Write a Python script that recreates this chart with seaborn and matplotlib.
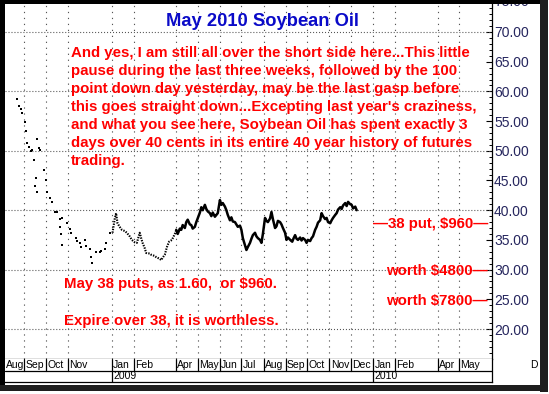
import matplotlib
matplotlib.use("Agg")
import matplotlib.pyplot as plt
import matplotlib.transforms as mtransforms
from matplotlib.patches import Rectangle
from matplotlib.ticker import MultipleLocator, FixedLocator
import seaborn as sns
import pandas as pd

# ---------------- data ----------------
dates_2008 = ['2008-08-22', '2008-08-25', '2008-08-27', '2008-08-29', '2008-09-02', '2008-09-03',
              '2008-09-05', '2008-09-08', '2008-09-10', '2008-09-12', '2008-09-15', '2008-09-16',
              '2008-09-17', '2008-09-18', '2008-09-19', '2008-09-22', '2008-09-23', '2008-09-29',
              '2008-10-01', '2008-10-02', '2008-10-06', '2008-10-09', '2008-10-13', '2008-10-16',
              '2008-10-20', '2008-10-21', '2008-10-22', '2008-10-23', '2008-10-24', '2008-10-30',
              '2008-11-03', '2008-11-05', '2008-11-12', '2008-11-14', '2008-11-17', '2008-11-19',
              '2008-11-24', '2008-11-26', '2008-12-01', '2008-12-03', '2008-12-04', '2008-12-10',
              '2008-12-15', '2008-12-17', '2008-12-22', '2008-12-24', '2008-12-29']
price_2008 = [58.7, 57.6, 57.0, 56.3, 54.8, 53.3,
              51.3, 50.6, 49.9, 50.1, 48.4, 44.0,
              45.4, 52.0, 43.0, 50.5, 50.1, 46.8,
              45.0, 43.0, 42.1, 41.4, 39.7, 39.7,
              38.5, 37.2, 36.0, 38.7, 34.1, 37.8,
              36.8, 36.2, 35.3, 34.8, 34.5, 33.8,
              35.0, 34.0, 33.5, 32.1, 31.1, 33.0,
              33.0, 33.2, 33.5, 34.5, 36.2]

dates_q1 = ['2009-01-02', '2009-01-05', '2009-01-07', '2009-01-09', '2009-01-12', '2009-01-15',
            '2009-01-19', '2009-01-22', '2009-01-26', '2009-01-29', '2009-02-02', '2009-02-05',
            '2009-02-09', '2009-02-11', '2009-02-13', '2009-02-16', '2009-02-18', '2009-02-23',
            '2009-02-25', '2009-03-02', '2009-03-04', '2009-03-09', '2009-03-11', '2009-03-13',
            '2009-03-16', '2009-03-19', '2009-03-22', '2009-03-26', '2009-03-30', '2009-04-01']
price_q1 = [36.2, 38.5, 39.5, 37.8, 37.2, 36.7,
            36.5, 36.2, 35.6, 35.0, 34.6, 34.5,
            36.2, 35.3, 34.5, 33.6, 32.8, 32.7,
            32.5, 32.3, 32.1, 31.8, 31.6, 32.0,
            32.5, 33.8, 34.7, 35.0, 36.0, 36.7]

dates_rest = ['2009-04-01', '2009-04-03', '2009-04-06', '2009-04-08', '2009-04-10', '2009-04-13',
              '2009-04-15', '2009-04-17', '2009-04-20', '2009-04-22', '2009-04-24', '2009-04-27',
              '2009-04-29', '2009-04-30', '2009-05-04', '2009-05-06', '2009-05-08', '2009-05-11',
              '2009-05-13', '2009-05-15', '2009-05-18', '2009-05-20', '2009-05-22', '2009-05-25',
              '2009-05-27', '2009-05-29', '2009-06-01', '2009-06-03', '2009-06-05', '2009-06-08',
              '2009-06-10', '2009-06-12', '2009-06-15', '2009-06-17', '2009-06-19', '2009-06-22',
              '2009-06-24', '2009-06-26', '2009-06-29', '2009-07-01', '2009-07-03', '2009-07-06',
              '2009-07-08', '2009-07-10', '2009-07-13', '2009-07-15', '2009-07-17', '2009-07-20',
              '2009-07-22', '2009-07-24', '2009-07-27', '2009-07-29', '2009-07-31', '2009-08-03',
              '2009-08-05', '2009-08-07', '2009-08-10', '2009-08-12', '2009-08-14', '2009-08-17',
              '2009-08-19', '2009-08-21', '2009-08-24', '2009-08-26', '2009-08-28', '2009-08-31',
              '2009-09-02', '2009-09-04', '2009-09-08', '2009-09-10', '2009-09-12', '2009-09-14',
              '2009-09-16', '2009-09-18', '2009-09-21', '2009-09-23', '2009-09-25', '2009-09-28',
              '2009-09-30', '2009-10-02', '2009-10-05', '2009-10-07', '2009-10-09', '2009-10-12',
              '2009-10-14', '2009-10-16', '2009-10-19', '2009-10-21', '2009-10-23', '2009-10-26',
              '2009-10-28', '2009-10-30', '2009-11-02', '2009-11-04', '2009-11-06', '2009-11-09',
              '2009-11-11', '2009-11-13', '2009-11-16', '2009-11-18', '2009-11-20', '2009-11-23',
              '2009-11-25', '2009-11-27', '2009-11-30', '2009-12-02', '2009-12-04', '2009-12-07',
              '2009-12-09']
price_rest = [36.7, 36.0, 36.9, 36.7, 37.5, 37.0,
              38.0, 38.4, 37.6, 37.5, 36.9, 37.2,
              38.0, 38.3, 39.6, 40.5, 40.0, 40.9,
              40.2, 39.8, 39.5, 39.0, 39.6, 38.9,
              39.2, 39.5, 41.7, 40.9, 41.2, 40.6,
              40.0, 39.2, 38.3, 38.8, 38.1, 38.0,
              37.6, 37.2, 37.4, 36.7, 35.3, 34.1,
              33.3, 33.8, 34.5, 35.2, 35.8, 36.2,
              35.6, 35.3, 35.0, 34.5, 36.0, 38.7,
              38.2, 38.0, 38.6, 39.7, 38.5, 37.0,
              37.3, 38.2, 38.0, 37.6, 37.0, 36.2,
              35.0, 35.4, 34.9, 34.7, 35.3, 35.8,
              35.2, 35.0, 35.4, 34.9, 35.3, 35.0,
              34.5, 35.0, 34.8, 35.3, 35.6, 36.7,
              37.2, 37.9, 38.3, 39.5, 39.0, 38.5,
              38.7, 38.0, 37.8, 38.3, 38.7, 39.2,
              39.5, 40.1, 40.5, 40.2, 40.8, 41.2,
              40.7, 41.4, 41.0, 40.9, 40.3, 40.6,
              40.0]

y_ticks = [20, 25, 30, 35, 40, 45, 50, 55, 60, 65, 70]
grid_levels = [20, 30, 40, 50, 60, 70]
month_starts = ['2008-08-01', '2008-09-01', '2008-10-01', '2008-11-01', '2009-01-01', '2009-02-01',
                '2009-04-01', '2009-05-01', '2009-06-01', '2009-07-01', '2009-08-01', '2009-09-01',
                '2009-10-01', '2009-11-01', '2009-12-01', '2010-01-01', '2010-02-01', '2010-04-01',
                '2010-05-01']
month_names = ['Aug', 'Sep', 'Oct', 'Nov', 'Jan', 'Feb', 'Apr', 'May', 'Jun', 'Jul', 'Aug', 'Sep',
               'Oct', 'Nov', 'Dec', 'Jan', 'Feb', 'Apr', 'May']
year_starts = ['2009-01-01', '2010-01-01']
year_names = ['2009', '2010']

title = "May 2010 Soybean Oil"
comment_lines = [
    "And yes, I am still all over the short side here...This little",
    "pause during the last three weeks, followed by the 100",
    "point down day yesterday, may be the last gasp before",
    "this goes straight down...Excepting last year's craziness,",
    "and what you see here, Soybean Oil has spent exactly 3",
    "days over 40 cents in its entire 40 year history of futures",
    "trading.",
]
note_lines = ["May 38 puts, as 1.60,  or $960.", "Expire over 38, it is worthless."]
side_notes = ["\u201438 put, $960\u2014", "worth $4800\u2014", "worth $7800\u2014"]

# ---------------- figure ----------------
W, H = 549, 394
sns.set_theme(style="white")
plt.rcParams['font.family'] = ['Liberation Sans', 'DejaVu Sans']
plt.rcParams['lines.scale_dashes'] = False

fig = plt.figure(figsize=(W / 100, H / 100), dpi=100)
fig.patch.set_facecolor('white')


def fx(px):
    return px / W


def fy(py):
    return 1 - py / H


L, R, T, B = 5, 492, 4, 359
ax = fig.add_axes([fx(L), fy(B), fx(R) - fx(L), fy(T) - fy(B)])
ax.set_facecolor('white')

df08 = pd.DataFrame({'date': pd.to_datetime(dates_2008), 'price': price_2008})
dfq1 = pd.DataFrame({'date': pd.to_datetime(dates_q1), 'price': price_q1})
dfr = pd.DataFrame({'date': pd.to_datetime(dates_rest), 'price': price_rest})

sns.scatterplot(data=df08, x='date', y='price', ax=ax, marker='s', s=3.5, color='black',
                linewidth=0, zorder=5)
sns.lineplot(data=dfq1, x='date', y='price', ax=ax, color='black', lw=1.5,
             linestyle=(0, (1.0, 0.9)), zorder=5)
sns.lineplot(data=dfr, x='date', y='price', ax=ax, color='black', lw=1.8, zorder=5)

x0 = pd.Timestamp('2008-08-04 20:00')
x1 = pd.Timestamp('2010-06-16')
ax.set_xlim(x0, x1)
ax.set_ylim(14.95, 74.71)

for lvl in grid_levels:
    ax.axhline(lvl, color='#555555', lw=0.8, linestyle=(0, (0.75, 1.4)), zorder=1)
for d in month_starts:
    if pd.Timestamp(d) > x0:
        ax.axvline(pd.Timestamp(d), color='#555555', lw=0.8, linestyle=(0, (0.9, 3.4)), zorder=1)

ax.set_xticks([])
ax.set_xlabel('')
ax.set_ylabel('')
ax.yaxis.tick_right()
ax.yaxis.set_major_locator(FixedLocator(y_ticks))
ax.set_yticklabels([f"{v:.2f}" for v in y_ticks])
ax.yaxis.set_minor_locator(MultipleLocator(1))
ax.tick_params(axis='y', which='major', direction='in', length=4, width=0.8, color='black',
               labelsize=10, labelcolor='#26265e', pad=1.5, right=True, left=False)
ax.tick_params(axis='y', which='minor', direction='in', length=2.2, width=0.7, color='black',
               right=True, left=False)
for s in ['left', 'top']:
    ax.spines[s].set_visible(False)
for s in ['right', 'bottom']:
    ax.spines[s].set_color('black')
    ax.spines[s].set_linewidth(0.9)
ax.grid(False)

trans = mtransforms.blended_transform_factory(ax.transAxes, ax.transData)
ax.text(1.0 + 2.2 / (R - L), 75, "75.00", transform=trans, fontsize=10, color='#26265e',
        va='center', ha='left', clip_on=False)

# ---------------- month / year label rows ----------------
ax2 = fig.add_axes([fx(L), fy(382), fx(R) - fx(L), fy(B) - fy(382)])
ax2.set_xlim(x0, x1)
ax2.set_ylim(0, 2)
ax2.set_xticks([])
ax2.set_yticks([])
ax2.set_facecolor('white')
for s in ['left', 'top']:
    ax2.spines[s].set_visible(False)
for s in ['right', 'bottom']:
    ax2.spines[s].set_color('black')
    ax2.spines[s].set_linewidth(0.9)
ax2.axhline(1, color='black', lw=0.9)
one_px = (x1 - x0) / (R - L)
for d, name in zip(month_starts, month_names):
    t = pd.Timestamp(d)
    if t > x0:
        ax2.plot([t, t], [1, 2], color='black', lw=0.9)
        ax2.text(t + one_px * 1.2, 1.48, name, fontsize=7.5, va='center', ha='left', color='black')
    else:
        ax2.text(x0 + one_px * 1.0, 1.48, name, fontsize=7.5, va='center', ha='left', color='black')
for d, name in zip(year_starts, year_names):
    t = pd.Timestamp(d)
    ax2.plot([t, t], [0, 1], color='black', lw=0.9)
    ax2.text(t + one_px * 1.2, 0.48, name, fontsize=7.5, va='center', ha='left', color='black')

fig.text(fx(530), fy(365), "D", fontsize=7.5, va='center', ha='left', color='black')

# ---------------- annotations ----------------
fig.text(fx(262), fy(21.5), title, fontsize=13.2, fontweight='bold', color='#0a0ac8',
         ha='center', va='center')
FS = 10.8
line_y = [52.7, 71.5, 89.5, 107.0, 125.0, 143.0, 161.0]
for txt, yy in zip(comment_lines, line_y):
    fig.text(fx(71), fy(yy), txt, fontsize=FS, fontweight='bold', color='#ff0000',
             ha='left', va='center')
fig.text(fx(64), fy(284), note_lines[0], fontsize=FS, fontweight='bold', color='#ff0000',
         ha='left', va='center')
fig.text(fx(64), fy(321), note_lines[1], fontsize=FS, fontweight='bold', color='#ff0000',
         ha='left', va='center')
for txt, yy in zip(side_notes, [224, 271, 301]):
    fig.text(fx(488), fy(yy), txt, fontsize=FS, fontweight='bold', color='#ff0000',
             ha='right', va='center')

# ---------------- outer frame with shadow ----------------
def frame_rect(x, y, w, h, color):
    fig.add_artist(Rectangle((fx(x), fy(y + h)), w / W, h / H, transform=fig.transFigure,
                             facecolor=color, edgecolor='none', zorder=10))


frame_rect(0, 0, 541, 3.5, 'black')      # top
frame_rect(0, 0, 4.5, 389, 'black')      # left
frame_rect(540, 0, 8, 392, '#1e1e1e')    # right shadow
frame_rect(0, 385, 548, 6, '#1e1e1e')    # bottom shadow

fig.savefig("out.png", dpi=100, facecolor='white')
